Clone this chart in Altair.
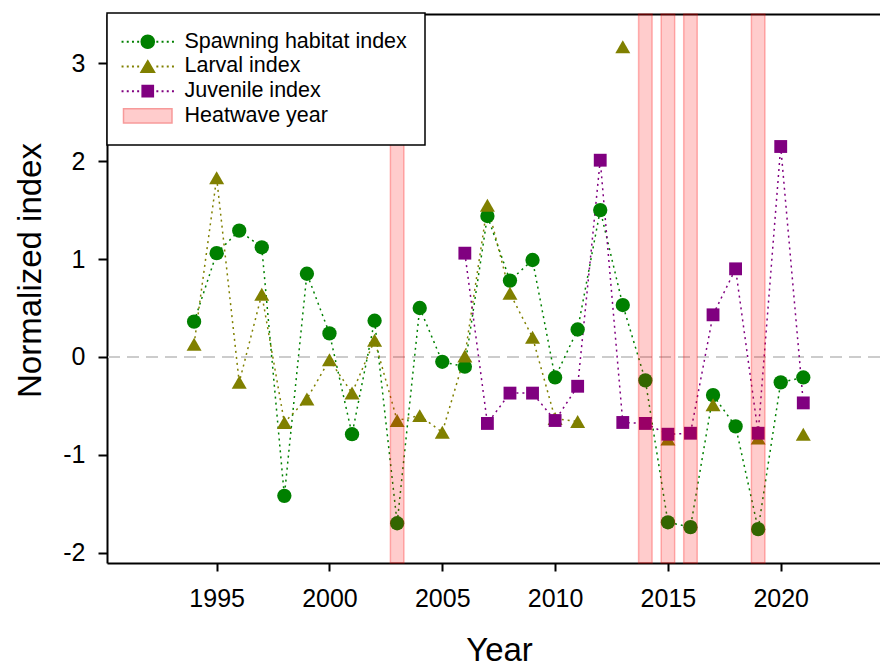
import altair as alt
import pandas as pd

# ---------------- data ----------------
years = list(range(1994, 2022))
spawning = [0.36, 1.06, 1.29, 1.12, -1.42, 0.85, 0.24, -0.79, 0.37, -1.70,
            0.50, -0.05, -0.10, 1.44, 0.78, 0.99, -0.21, 0.28, 1.50, 0.53,
            -0.24, -1.69, -1.74, -0.39, -0.71, -1.76, -0.26, -0.21]
larval = [0.13, 1.83, -0.26, 0.64, -0.67, -0.43, -0.03, -0.37, 0.17, -0.65,
          -0.60, -0.77, 0.01, 1.55, 0.65, 0.20, -0.63, -0.66, None, 3.17,
          None, -0.84, None, -0.49, None, -0.83, None, -0.79]
juv_years = list(range(2006, 2022))
juvenile = [1.06, -0.68, -0.37, -0.37, -0.65, -0.30, 2.01, -0.67, -0.68, -0.79,
            -0.78, 0.43, 0.90, -0.78, 2.15, -0.47]
heatwave_years = [2003, 2014, 2015, 2016, 2019]

x_ticks = [1995, 2000, 2005, 2010, 2015, 2020]
y_ticks = [-2, -1, 0, 1, 2, 3]

series_names = ["Spawning habitat index", "Larval index", "Juvenile index"]
heat_label = "Heatwave year"
colors = ["#008000", "#808000", "#800080"]
shapes = ["circle", "triangle-up", "square"]
sizes = [205, 225, 165]

FONT = "Liberation Sans"

rows = []
for y, v in zip(years, spawning):
    rows.append({"year": y, "value": v, "series": series_names[0]})
for y, v in zip(years, larval):
    rows.append({"year": y, "value": v, "series": series_names[1]})
for y, v in zip(juv_years, juvenile):
    rows.append({"year": y, "value": v, "series": series_names[2]})
df = pd.DataFrame(rows)
hw_df = pd.DataFrame({"year": heatwave_years})

# ---------------- legend symbols (custom paths, unit = 8 px) ----------------
def dots(offsets, d=0.06):
    return "".join(f"M{c - d / 2:.3f},{-d / 2:.3f}h{d}v{d}h{-d}Z" for c in offsets)

dot_pos = [-3.15, -2.5, -1.85, -1.2, 1.2, 1.85, 2.5, 3.15]
legend_paths = [
    dots(dot_pos) + "M0.82,0A0.82,0.82,0,1,1,-0.82,0A0.82,0.82,0,1,1,0.82,0Z",
    dots(dot_pos) + "M0,-0.72L0.85,0.72L-0.85,0.72Z",
    dots(dot_pos) + "M-0.7,-0.7H0.7V0.7H-0.7Z",
    "M-3.03,-0.9H3.03V0.9H-3.03Z",
]
legend_labels = series_names + [heat_label]
legend_fill = colors + ["#ffcccc"]
legend_stroke = colors + ["#f79a9a"]
legend_df = pd.DataFrame({"entry": legend_labels})

# ---------------- scales / axes ----------------
xscale = alt.Scale(domain=[1990.14, 2024.4], nice=False, zero=False)
yscale = alt.Scale(domain=[-2.106, 3.504], nice=False, zero=False)

x_bottom = alt.Axis(values=x_ticks, format="d", labelFontSize=25, labelPadding=15,
                    tickSize=8, tickWidth=2, domainWidth=2, grid=False,
                    title="Year", titleFontSize=33, titleFontWeight="normal",
                    titleX=392, titleY=97, titleBaseline="alphabetic",
                    labelColor="black", tickColor="black", domainColor="black",
                    titleColor="black")
x_top = alt.Axis(orient="top", labels=False, ticks=False, domainWidth=2,
                 domainColor="black", title=None, grid=False)
y_axis = alt.Axis(values=y_ticks, labelExpr="'' + datum.value", labelFontSize=25,
                  labelPadding=13, tickSize=9, tickWidth=2, domainWidth=2, grid=False,
                  title="Normalized index", titleFontSize=33, titleFontWeight="normal",
                  titleX=-67, titleY=256, titleBaseline="alphabetic",
                  labelColor="black", tickColor="black", domainColor="black",
                  titleColor="black")

# ---------------- layers ----------------
zero_rule = alt.Chart(df).mark_rule(color="#cccccc", strokeWidth=2,
                                    strokeDash=[12, 7]).encode(
    y=alt.YDatum(0, axis=None)
)

lines = alt.Chart(df).mark_line(strokeDash=[2, 4], strokeWidth=1.5,
                                invalid="break-paths-filter-domains").encode(
    x=alt.X("year:Q", scale=xscale, axis=x_bottom),
    y=alt.Y("value:Q", scale=yscale, axis=y_axis),
    color=alt.Color("series:N", scale=alt.Scale(domain=series_names, range=colors),
                    legend=None),
    detail="series:N",
)

point_layers = []
for i, name in enumerate(series_names):
    sub = df[(df["series"] == name) & df["value"].notna()]
    point_layers.append(
        alt.Chart(sub).mark_point(filled=True, shape=shapes[i], size=sizes[i],
                                  color=colors[i], opacity=1).encode(
            x=alt.X("year:Q", scale=xscale, axis=x_top if i == 0 else None),
            y=alt.Y("value:Q", scale=yscale, axis=None),
        )
    )

bands = alt.Chart(hw_df).transform_calculate(
    x0="datum.year - 0.3", x1="datum.year + 0.3"
).mark_rect(fill="#ff0000", fillOpacity=0.2, stroke="#ff0000",
            strokeOpacity=0.28, strokeWidth=1.5).encode(
    x=alt.X("x0:Q", scale=xscale, axis=None),
    x2="x1:Q",
)

legend_layer = alt.Chart(legend_df).mark_point(filled=True).encode(
    x=alt.value(0),
    y=alt.value(0),
    opacity=alt.value(0),
    shape=alt.Shape("entry:N", scale=alt.Scale(domain=legend_labels, range=legend_paths),
                    legend=alt.Legend(title=None)),
    fill=alt.Fill("entry:N", scale=alt.Scale(domain=legend_labels, range=legend_fill),
                  legend=alt.Legend(title=None)),
    stroke=alt.Stroke("entry:N", scale=alt.Scale(domain=legend_labels, range=legend_stroke),
                      legend=alt.Legend(title=None)),
)

chart = alt.layer(zero_rule, lines, *point_layers, bands, legend_layer).resolve_axis(
    x="independent", y="independent"
).properties(
    width=773,
    height=549,
    autosize=alt.AutoSizeParams(type="none"),
    padding={"left": 107, "top": 14, "right": 0, "bottom": 102},
    background="white",
).configure(font=FONT).configure_view(stroke=None).configure_axis(
    labelFont=FONT, titleFont=FONT
).configure_legend(
    orient="none", legendX=0, legendY=-1, padding=18,
    strokeColor="black", fillColor="white", strokeWidth=1.5,
    labelFont=FONT, labelFontSize=21.5, labelColor="black", labelLimit=500,
    symbolSize=256, symbolStrokeWidth=1.5, symbolOffset=12, labelOffset=26,
    rowPadding=1.7, symbolOpacity=1, cornerRadius=0,
)

chart.save("out.html", embed_options={"renderer": "svg", "actions": False})
